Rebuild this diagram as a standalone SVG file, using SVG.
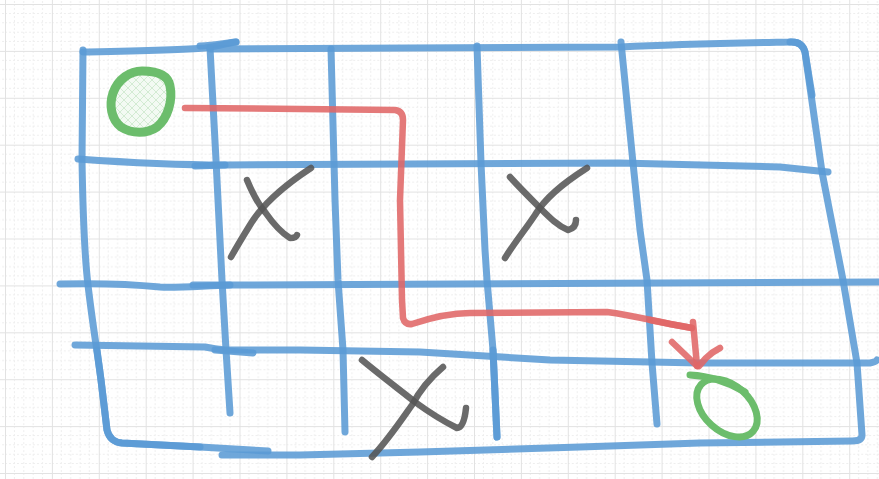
<svg xmlns="http://www.w3.org/2000/svg" width="879" height="479" viewBox="0 0 879 479">
<defs>
<pattern id="grid" x="5" y="4" width="46.9" height="46.9" patternUnits="userSpaceOnUse">
<path d="M9.38,0V46.9M18.76,0V46.9M28.14,0V46.9M37.52,0V46.9M0,9.38H46.9M0,18.76H46.9M0,28.14H46.9M0,37.52H46.9" stroke="#eeeeee" stroke-width="1" stroke-dasharray="2,2" fill="none"/>
<path d="M0.5,0V46.9M0,0.5H46.9" stroke="#e2e2e2" stroke-width="1" fill="none"/>
</pattern>
<pattern id="hatch" x="0" y="0" width="8" height="8" patternUnits="userSpaceOnUse">
<rect width="8" height="8" fill="#f3faf3"/>
<path d="M0,0L8,8M8,0L0,8" stroke="#d3ebd3" stroke-width="1" fill="none"/>
</pattern>
<style>
.b{fill:none;stroke:#5b9bd5;stroke-opacity:0.88;stroke-width:7;stroke-linecap:round;stroke-linejoin:round}
.r{fill:none;stroke:#e06666;stroke-opacity:0.88;stroke-width:6.5;stroke-linecap:round;stroke-linejoin:round}
.g{fill:none;stroke:#6cbd6c;stroke-width:7;stroke-linecap:round;stroke-linejoin:round}
.k{fill:none;stroke:#555555;stroke-opacity:0.88;stroke-width:6.5;stroke-linecap:round;stroke-linejoin:round}
</style>
</defs>
<rect width="879" height="479" fill="#ffffff"/>
<rect width="879" height="479" fill="url(#grid)"/>
<g id="grid-lines">
<path class="b" d="M83,52 C130,51 180,50 205,48 C220,46 228,43 236,42"/>
<path class="b" stroke-width="9" d="M200,46 C215,45 226,43 236,42"/>
<path class="b" d="M210,49 L621,47 C680,44 740,43 790,42 Q802,41 805,52 L822,172 L843,280 L857,363 L862,435 Q862,441 852,441 L700,443 L580,447 L420,452 L300,455 L222,455"/>
<path class="b" stroke-width="9" d="M790,42 Q802,41 805,52 L812,95"/>
<path class="b" d="M83,50 L82,160 C83,220 85,260 88,285 C92,320 97,350 101,380 L107,430 Q110,442 122,443 L200,447 L268,451"/>
<path class="b" stroke-width="9" d="M97,350 L101,380 L107,430 Q110,442 122,443 L200,447"/>
<path class="b" d="M78,159 C120,162 170,165 225,165 L620,163 L780,167 L828,172"/>
<path class="b" stroke-width="9" d="M195,166 L225,165"/>
<path class="b" d="M60,284 C100,283 140,285 160,287 C175,288 200,286 230,285 L879,282"/>
<path class="b" d="M193,285 L230,285"/>
<path class="b" d="M75,345 L205,347 Q215,349 225,350 L300,350 L420,352 L550,360 L700,363 L870,363 Q876,362 877,360"/>
<path class="b" d="M215,350 L253,353"/>
<path class="b" d="M210,48 L216,160 L222,280 L226,350 L230,413"/>
<path class="b" d="M331,49 L335,200 L338,280 L343,350 L345,432"/>
<path class="b" d="M477,46 L481,163 L485,250 L487,280 L493,350 L497,437"/>
<path class="b" stroke-width="9" d="M493,350 L497,437"/>
<path class="b" d="M621,42 L633,163 L640,230 L647,280 L652,363 L657,424"/>
</g>
<g id="start">
<path d="M142,71 C155,71 168,74 170,86 C173,100 168,118 157,127 C147,134 132,134 121,127 C111,119 109,105 113,93 C118,79 130,71 142,71 Z" fill="url(#hatch)" stroke="#6cbd6c" stroke-width="9" stroke-linejoin="round"/>
</g>
<g id="goal">
<ellipse class="g" cx="727" cy="408" rx="35" ry="23" transform="rotate(42 727 408)"/>
<path class="g" stroke-width="8" d="M690,375 C710,376 730,383 745,392"/>
</g>
<g id="blocked">
<path class="k" d="M247,180 C252,192 258,204 265,212 C272,222 280,232 290,238 Q296,238 297,235"/>
<path class="k" d="M311,168 C285,185 262,205 250,225 C242,238 236,248 231,257"/>
<path class="k" d="M510,177 C520,188 530,198 540,208 C550,218 558,226 568,230 Q576,228 576,220"/>
<path class="k" d="M587,168 C562,184 545,198 535,215 C525,230 515,242 505,258"/>
<path class="k" d="M362,360 C380,375 400,390 415,402 C430,413 445,422 457,428 Q464,428 466,408"/>
<path class="k" d="M443,367 C430,378 420,390 412,405 C400,422 388,440 372,457"/>
</g>
<g id="connectors">
<path class="r" d="M185,108 L300,109 L395,110 Q403,111 403,120 L400,200 L402,300 L403,318 Q405,325 412,324 C430,318 450,313 470,313 L607,312 C630,315 650,320 670,324 L692,328"/>
<path class="r" stroke-width="8" d="M650,320 L670,324 L692,328"/>
<path class="r" stroke-width="8" d="M693,322 L697,366"/>
<path class="r" d="M672,342 L697,366"/>
<path class="r" stroke-width="8" d="M720,348 Q712,352 706,358 L699,366"/>
</g>
</svg>
